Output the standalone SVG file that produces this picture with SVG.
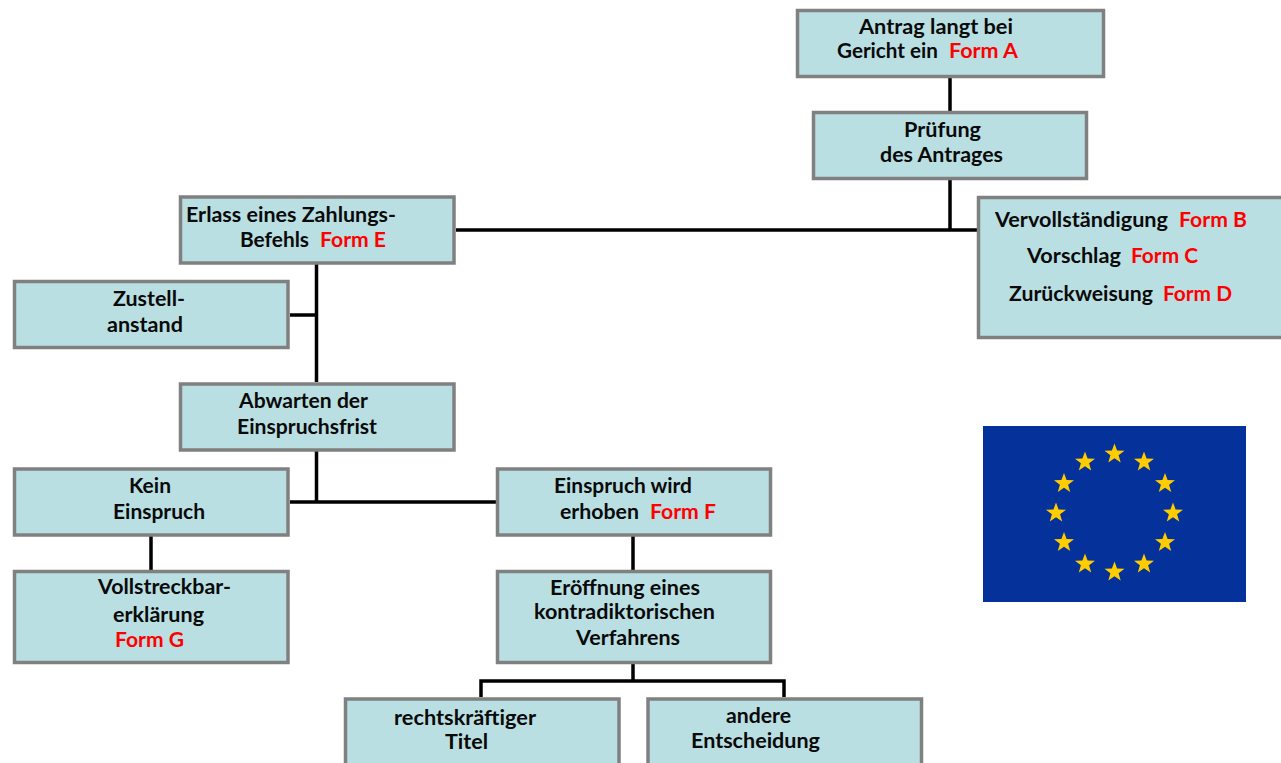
<svg xmlns="http://www.w3.org/2000/svg" width="1281" height="763" viewBox="0 0 1281 763">
<style>
.box{fill:#b9dfe2;stroke:#808080;stroke-width:3.500}
.c{fill:none;stroke:#000;stroke-width:3.500}
text{font-family:"Lato","Open Sans","Liberation Sans",sans-serif;font-weight:700;font-size:20px;fill:#0a0a0a}
.r{fill:#f00}
.star{fill:#fc0}
</style>
<defs>
<polygon id="s" points="0,-10.500 2.600,-3.400 10,-3.250 4.100,1.300 6.200,8.500 0,4.300 -6.200,8.500 -4.100,1.300 -10,-3.250 -2.600,-3.400"/>
</defs>
<rect width="1281" height="763" fill="#fff"/>
<g id="connectors" class="c">
<path d="M950 78V111M950 180V230M456 230H977"/>
<path d="M316.500 264V382M290 315H316.500"/>
<path d="M316.500 451V502M290 502H496"/>
<path d="M151 536V570M633 536V570"/>
<path d="M633 664V681M481 697V681H784V697"/>
</g>
<g id="n-antrag"><rect class="box" x="797.500" y="10.500" width="306" height="66"/>
<text x="859" y="34" textLength="154" lengthAdjust="spacingAndGlyphs">Antrag langt bei</text>
<text x="837" y="58" textLength="101" lengthAdjust="spacingAndGlyphs">Gericht ein</text>
<text class="r" x="949" y="58" textLength="69" lengthAdjust="spacingAndGlyphs">Form A</text></g>
<g id="n-pruefung"><rect class="box" x="813.500" y="112.500" width="273" height="66"/>
<text x="904" y="137" textLength="77" lengthAdjust="spacingAndGlyphs">Prüfung</text>
<text x="880" y="162" textLength="123" lengthAdjust="spacingAndGlyphs">des Antrages</text></g>
<g id="n-vervollstaendigung"><rect class="box" x="978.500" y="197.500" width="306" height="140"/>
<text x="995" y="227" textLength="173" lengthAdjust="spacingAndGlyphs">Vervollständigung</text>
<text class="r" x="1179" y="227" textLength="68" lengthAdjust="spacingAndGlyphs">Form B</text>
<text x="1027" y="263" textLength="94" lengthAdjust="spacingAndGlyphs">Vorschlag</text>
<text class="r" x="1131" y="263" textLength="67" lengthAdjust="spacingAndGlyphs">Form C</text>
<text x="1009" y="301" textLength="144" lengthAdjust="spacingAndGlyphs">Zurückweisung</text>
<text class="r" x="1163" y="301" textLength="69" lengthAdjust="spacingAndGlyphs">Form D</text></g>
<g id="n-erlass"><rect class="box" x="180.500" y="197" width="273.500" height="66"/>
<text x="186" y="222" textLength="210" lengthAdjust="spacingAndGlyphs">Erlass eines Zahlungs-</text>
<text x="240" y="247" textLength="69" lengthAdjust="spacingAndGlyphs">Befehls</text>
<text class="r" x="320" y="247" textLength="66" lengthAdjust="spacingAndGlyphs">Form E</text></g>
<g id="n-zustell"><rect class="box" x="14.500" y="281.500" width="273.500" height="66"/>
<text x="113" y="306" textLength="72" lengthAdjust="spacingAndGlyphs">Zustell-</text>
<text x="107" y="332" textLength="76" lengthAdjust="spacingAndGlyphs">anstand</text></g>
<g id="n-abwarten"><rect class="box" x="180.500" y="384" width="273.500" height="66"/>
<text x="239" y="408" textLength="129" lengthAdjust="spacingAndGlyphs">Abwarten der</text>
<text x="237" y="434" textLength="140" lengthAdjust="spacingAndGlyphs">Einspruchsfrist</text></g>
<g id="n-kein"><rect class="box" x="14.500" y="469" width="273.500" height="66"/>
<text x="129" y="493" textLength="42" lengthAdjust="spacingAndGlyphs">Kein</text>
<text x="113" y="519" textLength="92" lengthAdjust="spacingAndGlyphs">Einspruch</text></g>
<g id="n-einspruch"><rect class="box" x="497.500" y="469" width="273" height="66"/>
<text x="554" y="493" textLength="138" lengthAdjust="spacingAndGlyphs">Einspruch wird</text>
<text x="560" y="519" textLength="79" lengthAdjust="spacingAndGlyphs">erhoben</text>
<text class="r" x="650" y="519" textLength="66" lengthAdjust="spacingAndGlyphs">Form F</text></g>
<g id="n-vollstreckbar"><rect class="box" x="14.500" y="571.500" width="273.500" height="91"/>
<text x="98" y="594" textLength="133" lengthAdjust="spacingAndGlyphs">Vollstreckbar-</text>
<text x="113" y="622" textLength="91" lengthAdjust="spacingAndGlyphs">erklärung</text>
<text class="r" x="115" y="647" textLength="69" lengthAdjust="spacingAndGlyphs">Form G</text></g>
<g id="n-eroeffnung"><rect class="box" x="497.500" y="571.500" width="273" height="91"/>
<text x="550" y="595" textLength="150" lengthAdjust="spacingAndGlyphs">Eröffnung eines</text>
<text x="534" y="619" textLength="181" lengthAdjust="spacingAndGlyphs">kontradiktorischen</text>
<text x="576" y="645" textLength="104" lengthAdjust="spacingAndGlyphs">Verfahrens</text></g>
<g id="n-titel"><rect class="box" x="345.500" y="699" width="273.500" height="80"/>
<text x="394" y="725" textLength="142" lengthAdjust="spacingAndGlyphs">rechtskräftiger</text>
<text x="445" y="749" textLength="43" lengthAdjust="spacingAndGlyphs">Titel</text></g>
<g id="n-andere"><rect class="box" x="648" y="699" width="273.500" height="80"/>
<text x="726" y="723" textLength="65" lengthAdjust="spacingAndGlyphs">andere</text>
<text x="691" y="748" textLength="129" lengthAdjust="spacingAndGlyphs">Entscheidung</text></g>
<g id="eu-flag"><rect x="983" y="426" width="263" height="176" fill="#04319a"/>
<g class="star">
<use href="#s" x="1114.500" y="454"/>
<use href="#s" x="1144" y="462"/>
<use href="#s" x="1165" y="483.500"/>
<use href="#s" x="1173" y="513"/>
<use href="#s" x="1165" y="542.500"/>
<use href="#s" x="1144" y="564"/>
<use href="#s" x="1114.500" y="572"/>
<use href="#s" x="1085" y="564"/>
<use href="#s" x="1064" y="542.500"/>
<use href="#s" x="1056" y="513"/>
<use href="#s" x="1064" y="483.500"/>
<use href="#s" x="1085" y="462"/>
</g></g>
</svg>
